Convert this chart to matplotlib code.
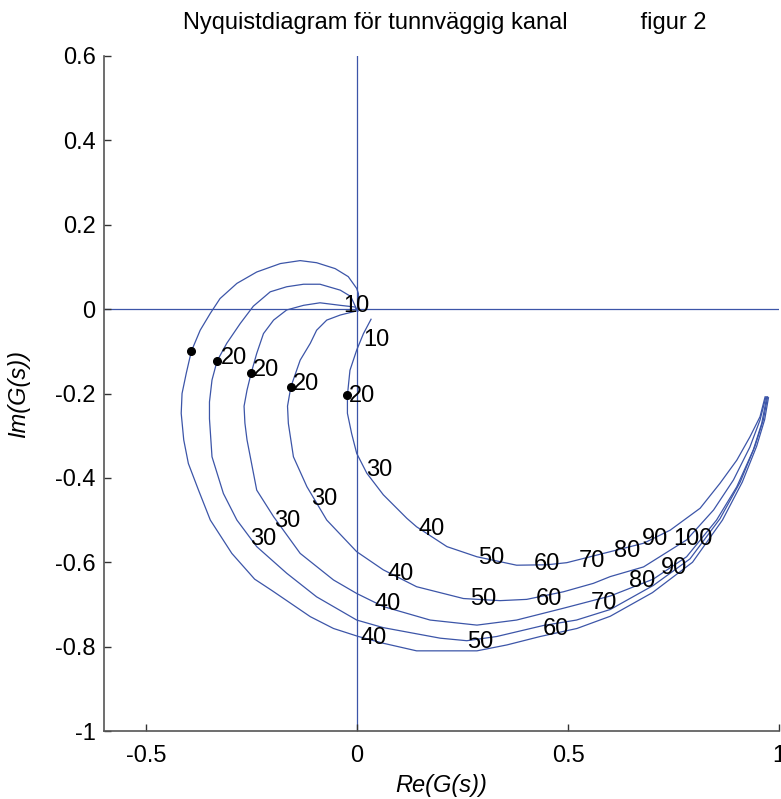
import matplotlib
matplotlib.use("Agg")
import matplotlib.pyplot as plt

plt.rcParams['font.family'] = ['Liberation Sans', 'DejaVu Sans']

# ---------------- data ----------------
c1_re = [0.002, 0.004, 0.003, -0.001, -0.021, -0.052, -0.096, -0.135, -0.182, -0.238, -0.285,
         -0.325, -0.348, -0.372, -0.393, -0.405, -0.415, -0.417, -0.411, -0.400, -0.376, -0.348,
         -0.297, -0.243, -0.202, -0.111, -0.056, 0.003, 0.062, 0.141, 0.284, 0.355, 0.434,
         0.521, 0.600, 0.700, 0.795, 0.866, 0.913, 0.947, 0.966, 0.975]
c1_im = [-0.005, 0.020, 0.037, 0.049, 0.077, 0.096, 0.110, 0.115, 0.108, 0.088, 0.061,
         0.025, -0.010, -0.050, -0.100, -0.152, -0.200, -0.247, -0.310, -0.366, -0.429, -0.500,
         -0.579, -0.640, -0.667, -0.729, -0.757, -0.776, -0.792, -0.810, -0.810, -0.796, -0.776,
         -0.757, -0.728, -0.672, -0.600, -0.500, -0.410, -0.325, -0.262, -0.210]

c2_re = [0.000, -0.015, -0.040, -0.088, -0.127, -0.167, -0.206, -0.246, -0.277, -0.309, -0.332,
         -0.344, -0.350, -0.350, -0.344, -0.317, -0.285, -0.238, -0.167, -0.096, -0.001, 0.062,
         0.197, 0.260, 0.331, 0.441, 0.520, 0.600, 0.702, 0.789, 0.860, 0.908, 0.943, 0.963, 0.973]
c2_im = [-0.003, 0.030, 0.045, 0.059, 0.059, 0.053, 0.041, 0.007, -0.034, -0.081, -0.123,
         -0.168, -0.220, -0.260, -0.350, -0.437, -0.500, -0.563, -0.626, -0.682, -0.737, -0.755,
         -0.780, -0.786, -0.776, -0.750, -0.737, -0.712, -0.655, -0.592, -0.497, -0.410, -0.325,
         -0.262, -0.208]

c3_re = [-0.002, -0.005, -0.040, -0.088, -0.127, -0.167, -0.198, -0.222, -0.238, -0.251, -0.261,
         -0.268, -0.266, -0.261, -0.238, -0.198, -0.135, -0.056, -0.001, 0.062, 0.173, 0.284,
         0.378, 0.489, 0.600, 0.702, 0.781, 0.852, 0.900, 0.939, 0.959, 0.971]
c3_im = [0.000, 0.005, 0.009, 0.015, 0.009, -0.002, -0.026, -0.058, -0.105, -0.151, -0.192,
         -0.230, -0.270, -0.310, -0.429, -0.492, -0.579, -0.642, -0.674, -0.705, -0.737, -0.749,
         -0.737, -0.709, -0.680, -0.640, -0.587, -0.500, -0.421, -0.334, -0.271, -0.208]

c4_re = [0.000, -0.040, -0.072, -0.096, -0.111, -0.135, -0.157, -0.165, -0.163, -0.151, -0.119,
         -0.072, -0.001, 0.062, 0.141, 0.252, 0.339, 0.402, 0.489, 0.560, 0.600, 0.679, 0.781,
         0.845, 0.892, 0.931, 0.955, 0.969]
c4_im = [-0.004, -0.014, -0.026, -0.050, -0.081, -0.121, -0.184, -0.230, -0.271, -0.350, -0.421,
         -0.500, -0.575, -0.618, -0.658, -0.686, -0.691, -0.688, -0.670, -0.650, -0.634, -0.611,
         -0.547, -0.476, -0.405, -0.327, -0.263, -0.208]

c5_re = [0.033, 0.015, -0.001, -0.017, -0.023, -0.023, -0.013, -0.001, 0.023, 0.062, 0.118,
         0.141, 0.213, 0.284, 0.378, 0.450, 0.497, 0.584, 0.679, 0.742, 0.813, 0.860, 0.900,
         0.931, 0.955, 0.967]
c5_im = [-0.024, -0.058, -0.097, -0.145, -0.204, -0.247, -0.295, -0.342, -0.389, -0.440, -0.496,
         -0.516, -0.563, -0.587, -0.607, -0.606, -0.601, -0.579, -0.555, -0.524, -0.472, -0.413,
         -0.358, -0.303, -0.255, -0.208]

curves_re = [c1_re, c2_re, c3_re, c4_re, c5_re]
curves_im = [c1_im, c2_im, c3_im, c4_im, c5_im]

# markers at omega = 20
dot_re = [-0.393, -0.332, -0.251, -0.157, -0.024]
dot_im = [-0.100, -0.123, -0.151, -0.184, -0.204]

# frequency labels (visual centre of each label)
lab_text = ['10', '10',
            '20', '20', '20', '20',
            '30', '30', '30', '30',
            '40', '40', '40', '40',
            '50', '50', '50',
            '60', '60', '60',
            '70', '70',
            '80', '80',
            '90', '90',
            '100']
lab_re = [-0.001, 0.046,
          -0.291, -0.216, -0.121, 0.011,
          0.053, -0.079, -0.165, -0.222,
          0.177, 0.104, 0.072, 0.039,
          0.319, 0.299, 0.291,
          0.451, 0.455, 0.471,
          0.556, 0.586,
          0.641, 0.675,
          0.706, 0.750,
          0.797]
lab_im = [0.013, -0.066,
          -0.109, -0.139, -0.171, -0.200,
          -0.374, -0.445, -0.496, -0.539,
          -0.516, -0.622, -0.692, -0.773,
          -0.583, -0.682, -0.782,
          -0.599, -0.682, -0.753,
          -0.591, -0.690,
          -0.567, -0.638,
          -0.539, -0.607,
          -0.539]

xticks = [-0.5, 0, 0.5, 1]
xticklabels = ['-0.5', '0', '0.5', '1']
yticks = [-1, -0.8, -0.6, -0.4, -0.2, 0, 0.2, 0.4, 0.6]
yticklabels = ['-1', '-0.8', '-0.6', '-0.4', '-0.2', '0', '0.2', '0.4', '0.6']

title = 'Nyquistdiagram för tunnväggig kanal           figur 2'

# ---------------- drawing ----------------
W, H = 781, 799
FS = 17
fig = plt.figure(figsize=(W / 100, H / 100), dpi=100)
ax = fig.add_axes([104 / W, (H - 731) / H, (779 - 104) / W, (731 - 56) / H])
ax.set_xlim(-0.6, 1)
ax.set_ylim(-1, 0.6)

line_col = '#3c55a8'
ax.axvline(0, color=line_col, lw=0.9, zorder=1)
ax.axhline(0, color=line_col, lw=0.9, zorder=1)

for xr, yi in zip(curves_re, curves_im):
    ax.plot(xr, yi, color=line_col, lw=0.9, zorder=2)

ax.plot(dot_re, dot_im, 'o', color='black', ms=5.5, zorder=3)

for t, xr, yi in zip(lab_text, lab_re, lab_im):
    ax.annotate(t, (xr, yi), xytext=(0, -6.2), textcoords='offset points',
                ha='center', va='baseline', fontsize=FS, color='black', zorder=4)

for s in ['top', 'right']:
    ax.spines[s].set_visible(False)
for s in ['left', 'bottom']:
    ax.spines[s].set_color('#555555')
    ax.spines[s].set_linewidth(1.2)

ax.set_xticks(xticks)
ax.set_xticklabels(xticklabels)
ax.set_yticks(yticks)
ax.set_yticklabels(yticklabels)
ax.tick_params(direction='in', length=5, width=1, color='#333333',
               labelsize=FS, labelcolor='black')
ax.tick_params(axis='x', pad=10)
ax.tick_params(axis='y', pad=6)

ax.set_xlabel('Re(G(s))', fontsize=FS, style='italic', labelpad=5)
ax.set_ylabel('Im(G(s))', fontsize=FS, style='italic', labelpad=18)

fig.text(445 / W, 1 - 29 / H, title, ha='center', va='baseline', fontsize=FS)

fig.savefig('out.png', dpi=100)
